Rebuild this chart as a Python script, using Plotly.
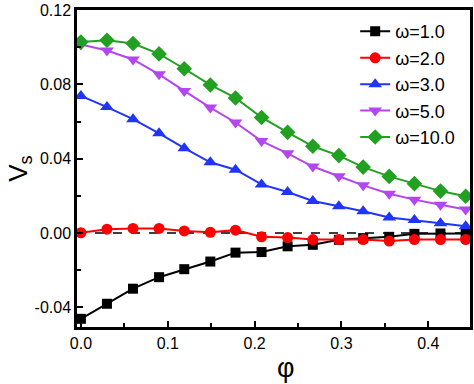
import plotly.graph_objects as go

phi = [0.0, 0.03, 0.06, 0.09, 0.119, 0.149, 0.178, 0.208, 0.238, 0.267, 0.297, 0.325, 0.355, 0.384, 0.414, 0.443]

vs_w1 = [-0.0461, -0.0380, -0.0299, -0.0237, -0.0194, -0.0153, -0.0105, -0.0102,
         -0.0071, -0.0063, -0.0036, -0.0027, -0.0020, -0.0004, -0.0002, -0.0002]
vs_w2 = [0.0002, 0.0021, 0.0025, 0.0025, 0.0012, 0.0004, 0.0016, -0.0020,
         -0.0024, -0.0035, -0.0035, -0.0035, -0.0043, -0.0035, -0.0035, -0.0035]
vs_w3 = [0.0738, 0.0678, 0.0613, 0.0537, 0.0457, 0.0381, 0.0341, 0.0262,
         0.0221, 0.0173, 0.0144, 0.0118, 0.0084, 0.0070, 0.0053, 0.0037]
vs_w5 = [0.1014, 0.0982, 0.0934, 0.0854, 0.0765, 0.0675, 0.0595, 0.0495,
         0.0429, 0.0358, 0.0306, 0.0257, 0.0212, 0.0180, 0.0153, 0.0127]
vs_w10 = [0.1028, 0.1037, 0.1020, 0.0964, 0.0884, 0.0797, 0.0727, 0.0622,
          0.0542, 0.0467, 0.0417, 0.0355, 0.0305, 0.0266, 0.0226, 0.0198]

names = ["ω=1.0", "ω=2.0", "ω=3.0", "ω=5.0", "ω=10.0"]
series = [vs_w1, vs_w2, vs_w3, vs_w5, vs_w10]
colors = ["#000000", "#ff0000", "#2035f5", "#b446f0", "#22a022"]
symbols = ["square", "circle", "triangle-up", "triangle-down", "diamond"]
sizes = [10, 11, 12, 12, 12]

fig = go.Figure()
for i, (n, s) in enumerate(zip(names, series)):
    fig.add_trace(go.Scatter(
        x=phi, y=s, name=n, mode="lines+markers", legendgroup=n,
        line=dict(color=colors[i], width=2),
        marker=dict(symbol=symbols[i], size=sizes[i], color=colors[i]),
    ))

fig.add_shape(type="line", xref="paper", yref="y", x0=0, x1=1, y0=0, y1=0,
              line=dict(color="black", width=1.5, dash="dash"), layer="below")

fig.add_annotation(text="φ", xref="paper", yref="paper", x=0.532, y=-0.13,
                   xanchor="center", yanchor="middle", showarrow=False,
                   font=dict(size=27))

axis_font = dict(family="Liberation Sans, Arial, sans-serif", size=16, color="black")

fig.update_layout(
    width=474, height=384,
    margin=dict(l=77, r=4, t=10, b=57),
    paper_bgcolor="white", plot_bgcolor="white",
    font=axis_font,
    showlegend=True,
    legend=dict(x=0.975, y=0.99, xanchor="right", yanchor="top",
                bgcolor="rgba(0,0,0,0)", font=dict(size=18),
                traceorder="grouped", tracegroupgap=0),
    xaxis=dict(range=[-0.0045, 0.448], tickvals=[0.0, 0.1, 0.2, 0.3, 0.4],
               ticktext=["0.0", "0.1", "0.2", "0.3", "0.4"],
               ticks="inside", ticklen=6, tickwidth=2, tickcolor="black",
               minor=dict(dtick=0.05, tick0=0, ticks="inside", ticklen=4, tickwidth=2, tickcolor="black"),
               showline=True, linewidth=2.5, linecolor="black", mirror=True,
               showgrid=False, zeroline=False, automargin=False),
    yaxis=dict(range=[-0.0505, 0.12], tickvals=[-0.04, 0.0, 0.04, 0.08, 0.12],
               ticktext=["-0.04", "0.00", "0.04", "0.08", "0.12"],
               ticks="inside", ticklen=6, tickwidth=2, tickcolor="black",
               minor=dict(dtick=0.02, tick0=0, ticks="inside", ticklen=4, tickwidth=2, tickcolor="black"),
               showline=True, linewidth=2.5, linecolor="black", mirror=True,
               showgrid=False, zeroline=False, automargin=False,
               title=dict(text="V<sub>s</sub>", font=dict(size=26), standoff=0)),
)

fig.write_html("out.html", config={"displayModeBar": False},
               post_script="document.body.style.margin='0px';document.body.style.overflow='hidden';")
